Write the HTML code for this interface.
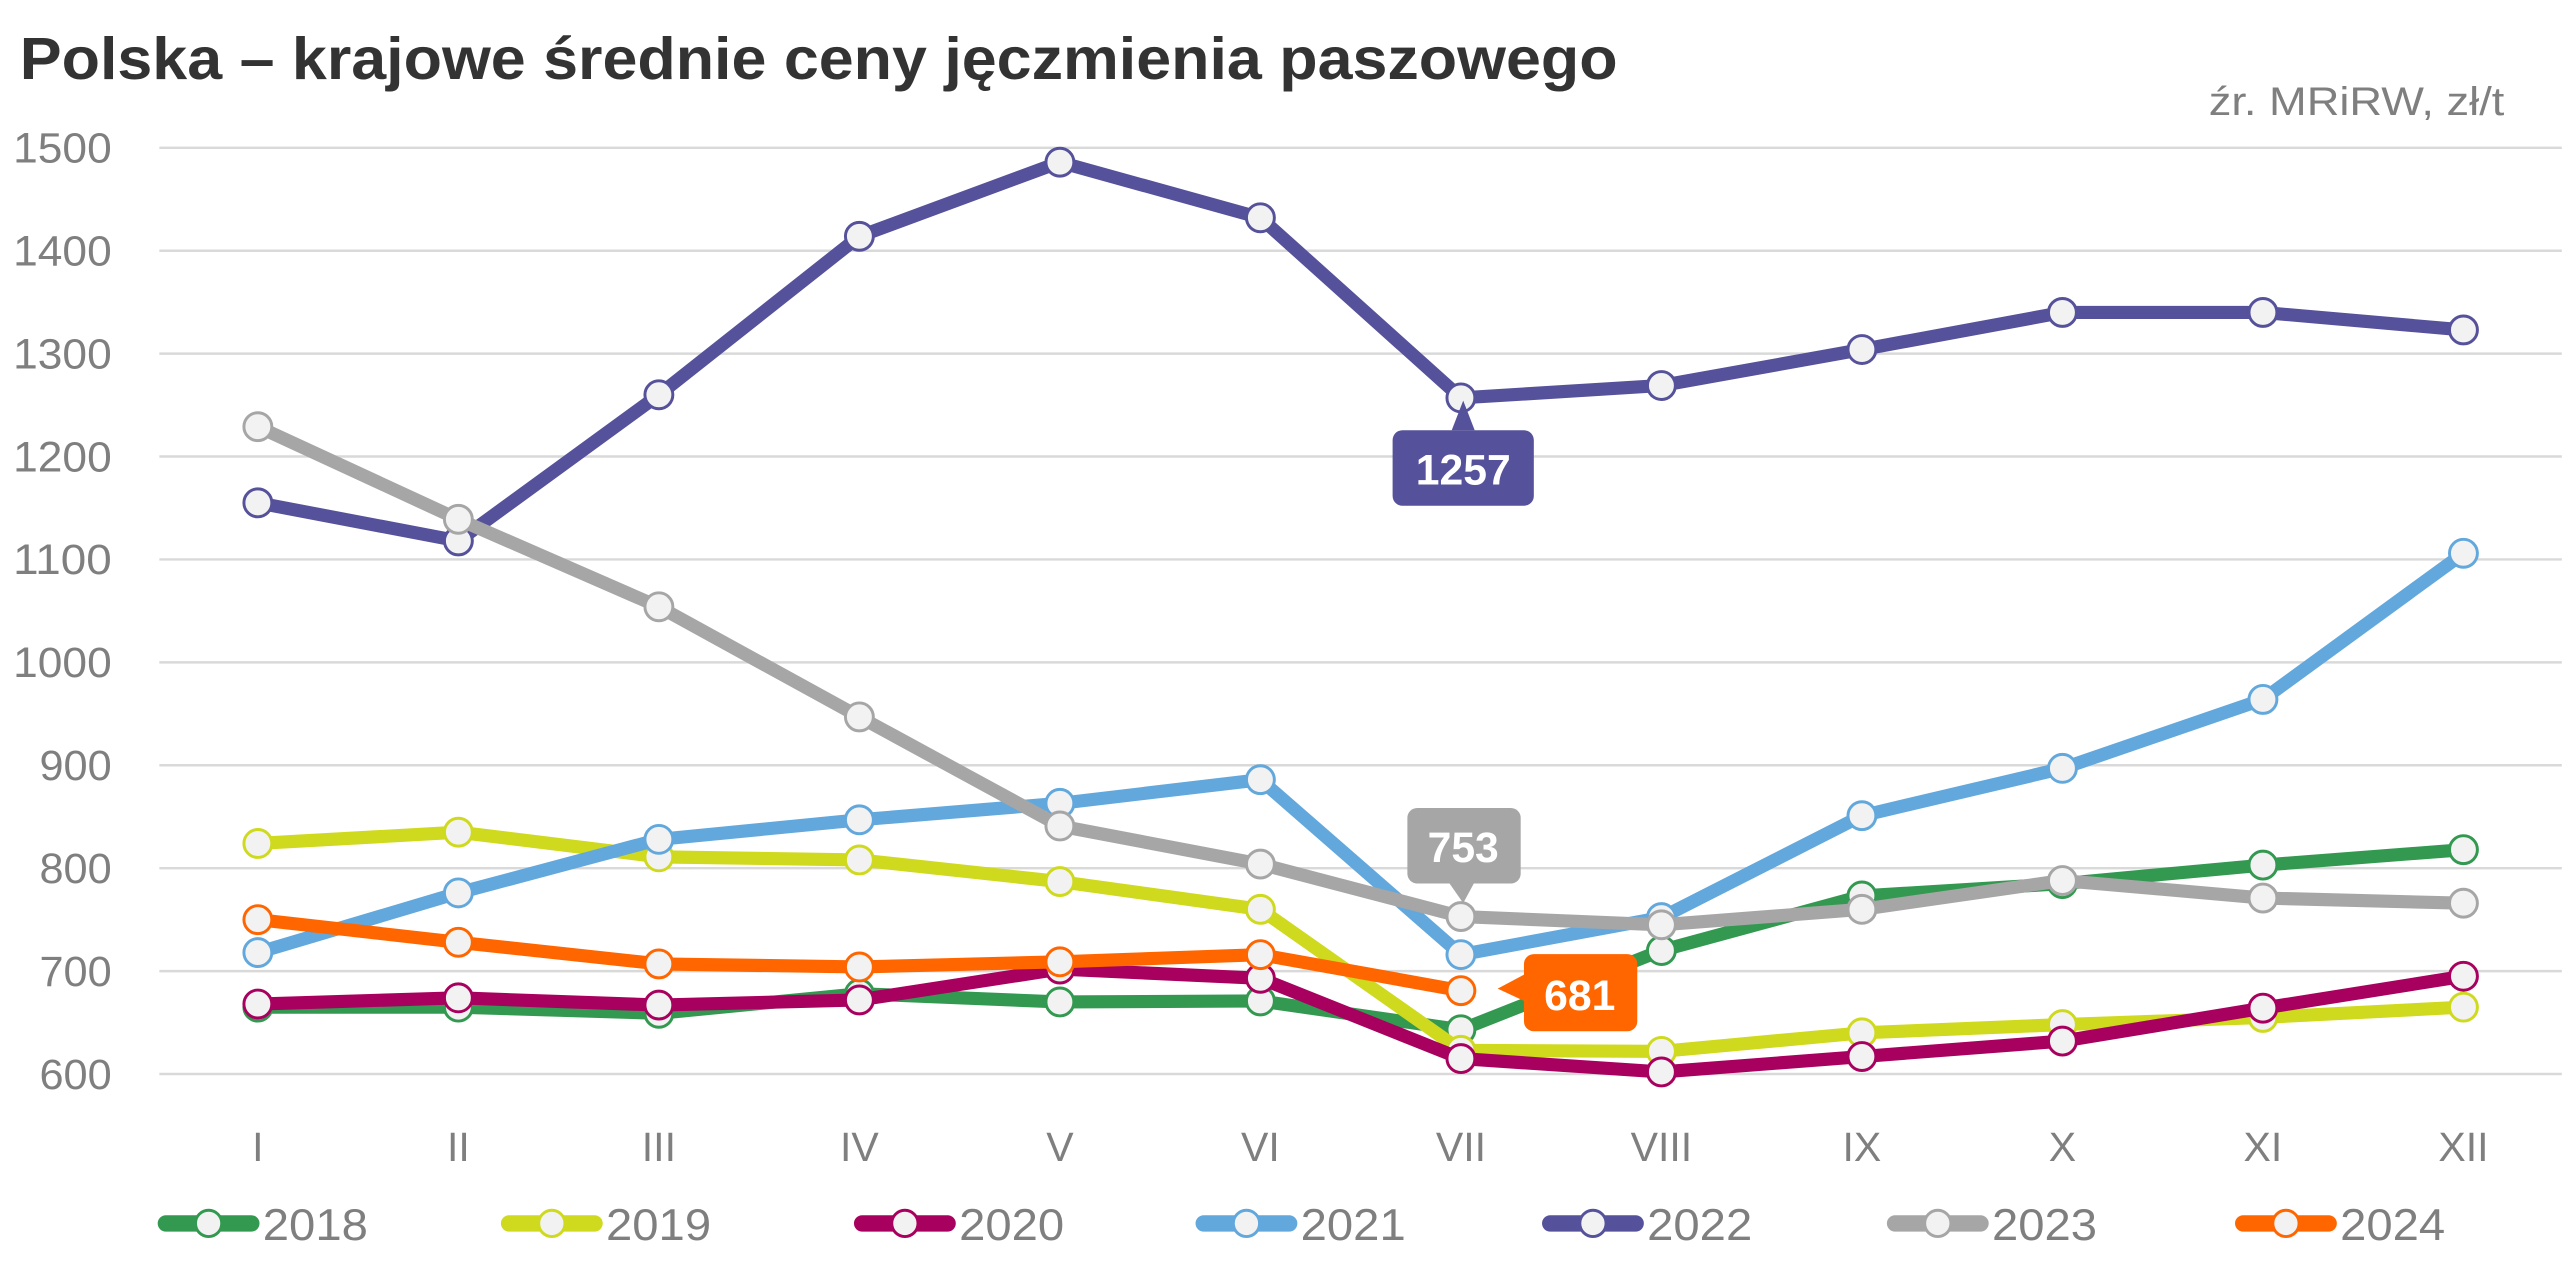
<!DOCTYPE html>
<html><head><meta charset="utf-8">
<style>
html,body{margin:0;padding:0;background:#fff;}
svg{display:block;font-family:"Liberation Sans","DejaVu Sans",sans-serif;}
</style></head>
<body>
<svg id="c" width="2575" height="1273" viewBox="0 0 1568 775.2" xmlns="http://www.w3.org/2000/svg">
<rect width="1568" height="775.2" fill="#fff"/>
<text x="12" y="48" font-size="36" font-weight="bold" fill="#333" textLength="973" lengthAdjust="spacingAndGlyphs">Polska – krajowe średnie ceny jęczmienia paszowego</text>
<text x="1525" y="70" font-size="24" fill="#7f7f7f" text-anchor="end" textLength="180" lengthAdjust="spacingAndGlyphs">źr. MRiRW, zł/t</text>
<g id="grid"></g>
<g id="series"></g>
<g id="legend"></g>
<g id="labels"></g>
</svg>
<script>
const NS="http://www.w3.org/2000/svg";
function el(t,a,p,txt){const e=document.createElementNS(NS,t);for(const k in a)e.setAttribute(k,a[k]);if(txt!==undefined)e.textContent=txt;p.appendChild(e);return e;}
const Y=v=>90+(1500-v)*0.6267, X=i=>157+i*122.1;
const g=document.getElementById('grid');
for(let v=600;v<=1500;v+=100){
 el('line',{x1:97,x2:1560,y1:Y(v),y2:Y(v),stroke:'#d9d9d9','stroke-width':1.5},g);
 const t=el('text',{x:68,y:Y(v)+9,'font-size':26,fill:'#7f7f7f','text-anchor':'end'},g,v);
 t.setAttribute('textLength', v>=1000?60:44); t.setAttribute('lengthAdjust','spacingAndGlyphs');
}
const months=['I','II','III','IV','V','VI','VII','VIII','IX','X','XI','XII'];
months.forEach((m,i)=>el('text',{x:X(i),y:707,'font-size':25,fill:'#7f7f7f','text-anchor':'middle'},g,m));
const data=[
 ['2018','#339951',[665,665,659,678,670,671,643,720,773,785,803,818]],
 ['2019','#cfd91e',[824,835,811,808,787,760,623,622,640,648,655,665]],
 ['2020','#a8005e',[668,674,667,672,702,693,615,602,617,632,664,695]],
 ['2021','#62a8dc',[718,776,828,847,863,886,716,752,851,897,964,1106]],
 ['2022','#55519a',[1155,1118,1260,1414,1486,1432,1257,1269,1304,1340,1340,1323]],
 ['2023','#a6a6a6',[1229,1139,1054,947,841,804,753,745,760,788,771,766]],
 ['2024','#ff6600',[750,728,707,704,709,716,681]]
];
const s=document.getElementById('series');
data.forEach(([n,c,vals])=>{
 el('polyline',{points:vals.map((v,i)=>X(i)+','+Y(v)).join(' '),fill:'none',stroke:c,'stroke-width':8,'stroke-linejoin':'round','stroke-linecap':'round'},s);
 vals.forEach((v,i)=>el('circle',{cx:X(i),cy:Y(v),r:8.5,fill:'#f2f2f2',stroke:c,'stroke-width':1.8},s));
});
const lg=document.getElementById('legend');
const lx=[97,306,521,729,940,1150,1362];
data.forEach(([n,c],k)=>{
 const x=lx[k];
 el('line',{x1:x+4,x2:x+56,y1:745,y2:745,stroke:c,'stroke-width':10,'stroke-linecap':'round'},lg);
 el('circle',{cx:x+30,cy:745,r:8,fill:'#f2f2f2',stroke:c,'stroke-width':1.8},lg);
 el('text',{x:x+63,y:755,'font-size':27,fill:'#7f7f7f',textLength:64,lengthAdjust:'spacingAndGlyphs'},lg,n);
});
const lb=document.getElementById('labels');
el('path',{d:'M884,262 L891,244 L898,262 Z',fill:'#55519a'},lb);
el('rect',{x:848,y:262,width:86,height:46,rx:6,fill:'#55519a'},lb);
el('text',{x:891,y:295,'font-size':26,'font-weight':'bold',fill:'#fff','text-anchor':'middle'},lb,'1257');
el('rect',{x:857,y:492,width:69,height:46,rx:6,fill:'#a6a6a6'},lb);
el('path',{d:'M882,537 L891,550 L898,537 Z',fill:'#a6a6a6'},lb);
el('text',{x:891,y:525,'font-size':26,'font-weight':'bold',fill:'#fff','text-anchor':'middle'},lb,'753');
el('rect',{x:928,y:581,width:69,height:47,rx:6,fill:'#ff6600'},lb);
el('path',{d:'M929,593 L912,602 L929,610 Z',fill:'#ff6600'},lb);
el('text',{x:962,y:615,'font-size':26,'font-weight':'bold',fill:'#fff','text-anchor':'middle'},lb,'681');
</script>
</body></html>
